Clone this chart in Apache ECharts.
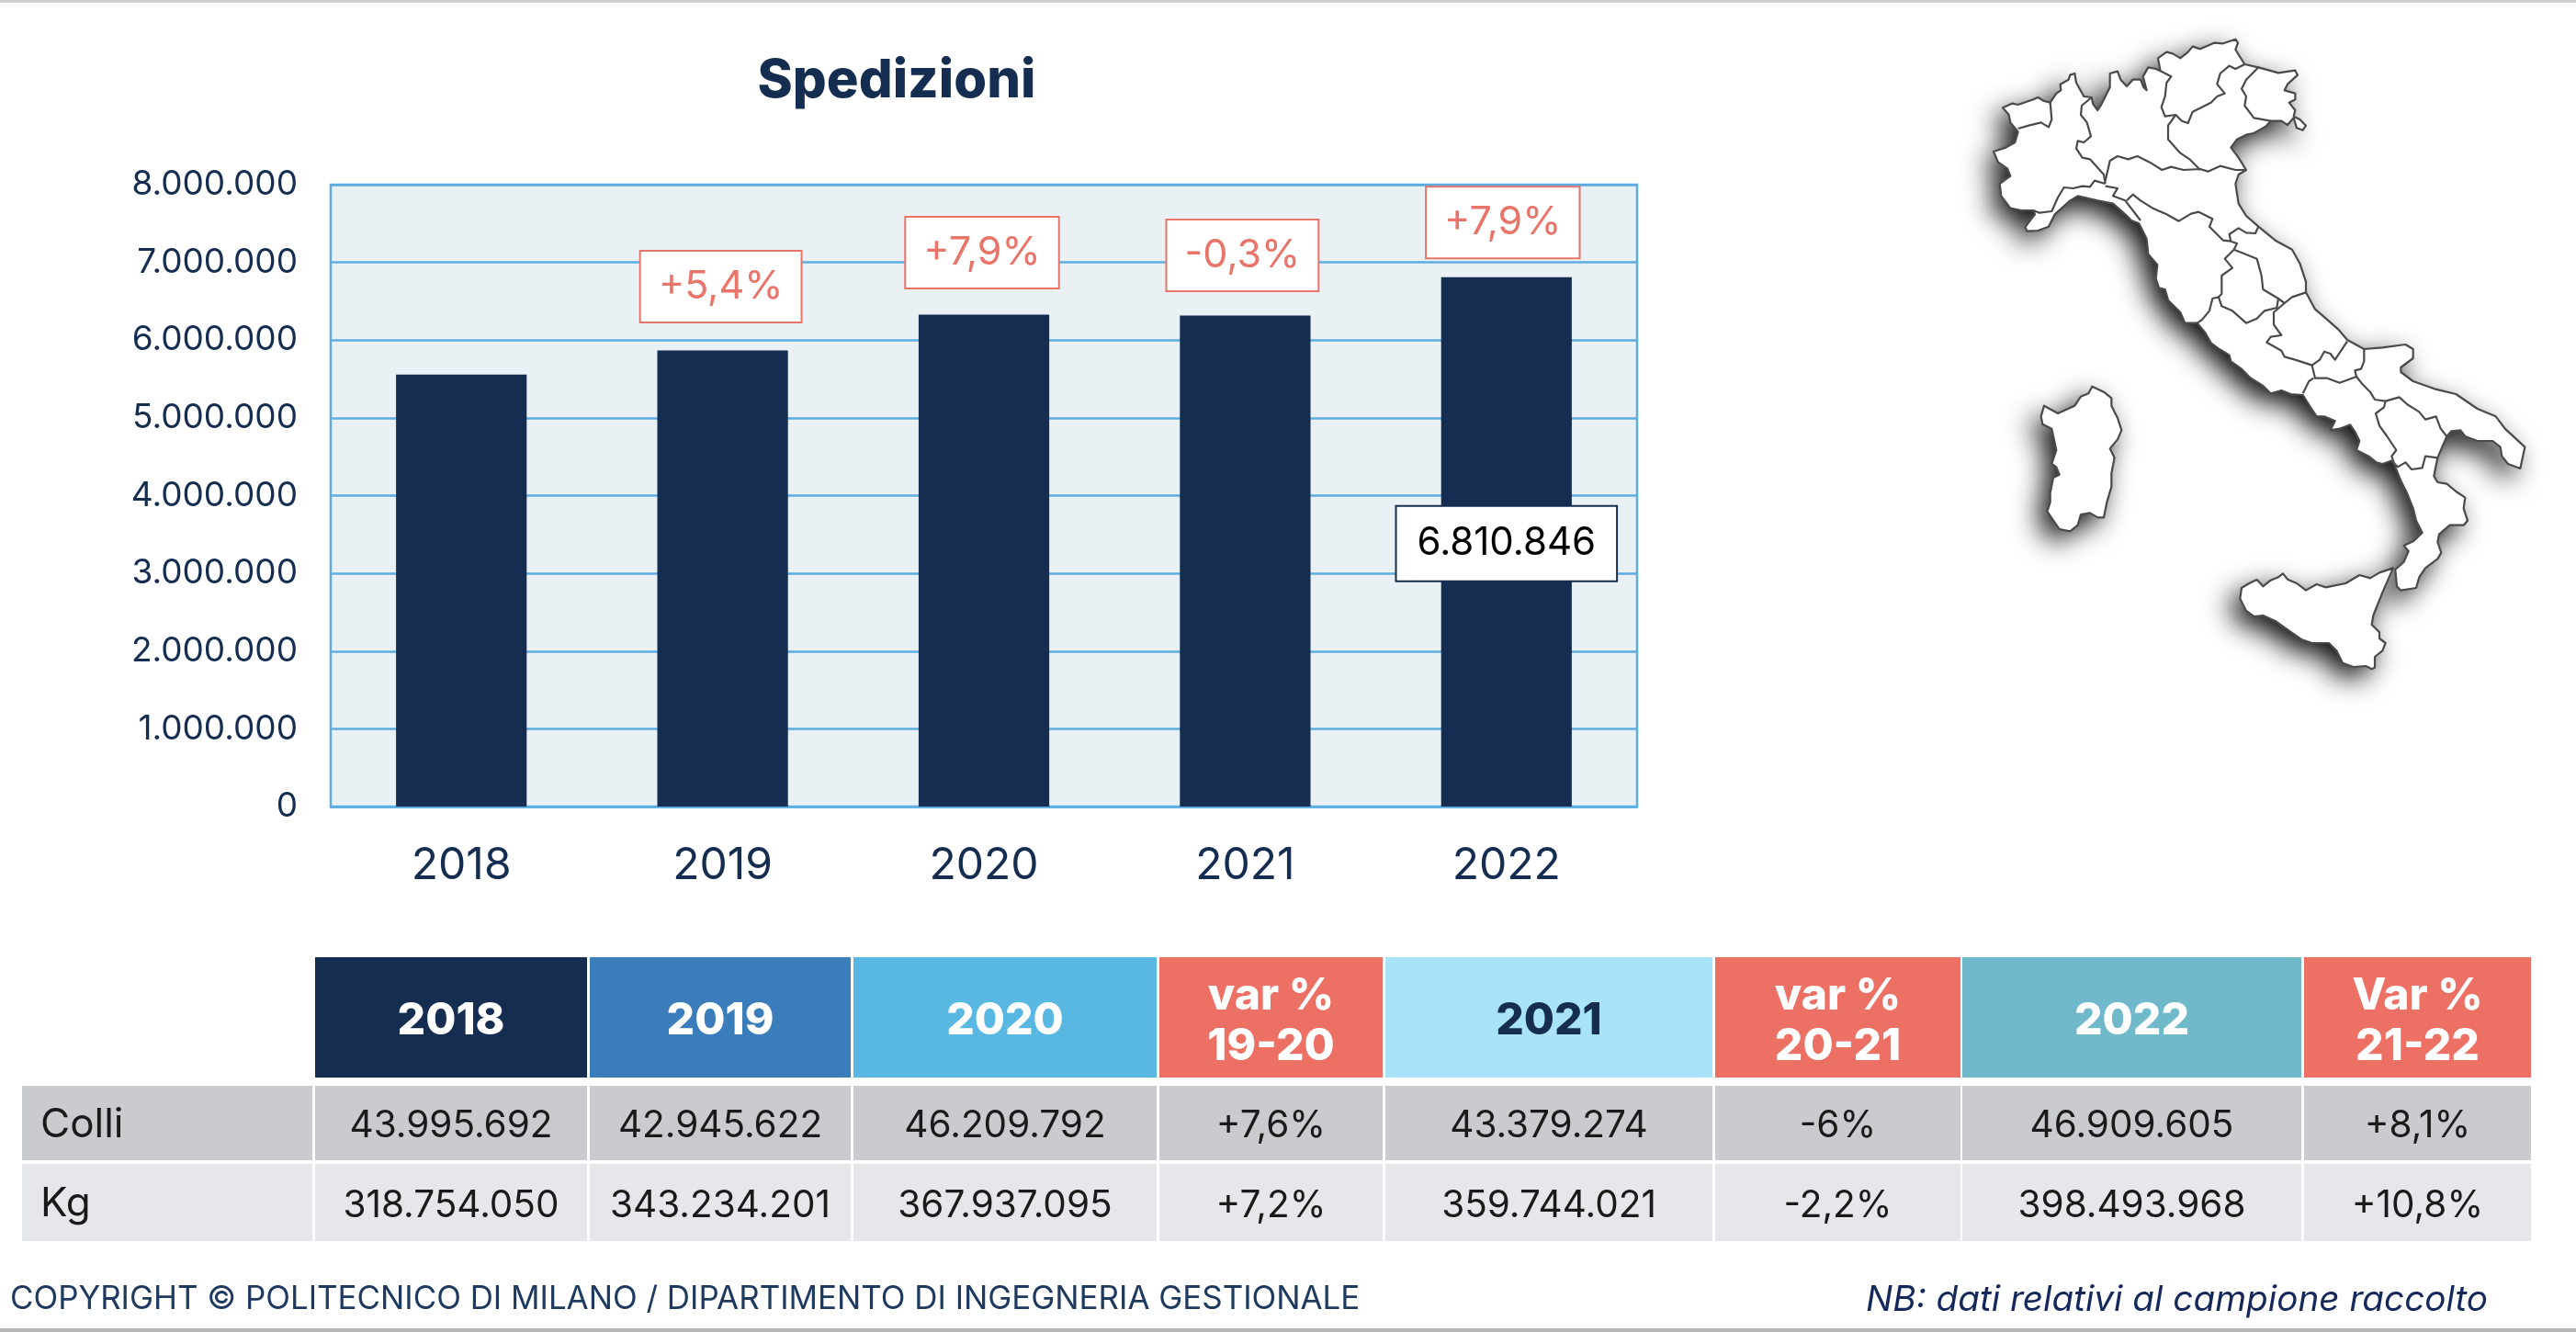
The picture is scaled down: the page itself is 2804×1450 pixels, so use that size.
<!DOCTYPE html>
<html><head><meta charset="utf-8">
<style>html,body{margin:0;padding:0;background:#fff}#c{width:2804px;height:1450px}</style>
<script src="https://cdn.jsdelivr.net/npm/echarts@6/dist/echarts.min.js"></script>
</head><body><div id="c"></div>
<script>
const years = ['2018','2019','2020','2021','2022'];
const shipments = [5558000, 5866000, 6327000, 6315000, 6810846];
const variations = [null,'+5,4%','+7,9%','-0,3%','+7,9%'];
const yTicks = {min:0,max:8000000,step:1000000};
const tableHeaders = ['2018','2019','2020','var %\n19-20','2021','var %\n20-21','2022','Var %\n21-22'];
const rowNames = ['Colli','Kg'];
const colliRow = ['43.995.692','42.945.622','46.209.792','+7,6%','43.379.274','-6%','46.909.605','+8,1%'];
const kgRow = ['318.754.050','343.234.201','367.937.095','+7,2%','359.744.021','-2,2%','398.493.968','+10,8%'];
const copyrightText = 'COPYRIGHT © POLITECNICO DI MILANO / DIPARTIMENTO DI INGEGNERIA GESTIONALE';
const noteText = 'NB: dati relativi al campione raccolto';

const NAVY='#142d50', CORAL='#ed7064', FONT='Inter';
const headFill=[NAVY,'#3b7cbb','#58b8e2',CORAL,'#a9e3fa',CORAL,'#6fb9cb',CORAL];
const headText=['#fff','#fff','#fff','#fff',NAVY,'#fff','#fff','#fff'];
const colX=[[343,639],[642,926],[929,1259],[1262,1505],[1508,1864],[1867,2134],[2136,2505],[2508,2755]];
const labelOffset=[[0,0],[-2,-31],[-2,-29],[-3,-27],[-4,-21]];

// Italy artwork, traced in local frames (decoration, not chart data)
const frames={A:[2150,30],B:[2350,230],C:[2450,430],D:[2200,400],E:[2420,590]};
const mainlandParts=[
['A',[[90,262],[120,248],[140,252],[190,235],[205,228],[225,240],[245,245],[265,215],[280,205],[278,185],[305,170],[310,155],[325,150],[330,180],[355,225],[380,228],[385,250],[400,270],[410,255],[440,195],[440,150],[465,143],[475,170],[495,192],[515,170],[540,170],[550,195],[560,205],[548,160],[565,130],[590,135],[605,142],[597,100],[625,80],[645,85],[670,100],[695,80],[710,62],[735,70],[780,50],[810,52],[850,38],[858,50],[850,72],[880,120],[925,130],[990,148],[1045,140],[1053,155],[1020,185],[1010,205],[1045,215],[1045,235],[1025,245],[1045,270],[1040,290],[1060,300],[1080,320],[1070,335],[1050,328],[1040,295],[1020,318],[1000,305],[965,305],[950,322],[910,345],[885,350],[855,365],[835,392],[860,425],[885,465],[860,480],[850,510],[860,575],[885,615],[925,650],[980,695],[1035,725],[1060,770],[1080,830]]],
['B',[[480,265],[510,320],[545,350],[585,385],[615,420],[670,450],[730,445],[805,435],[830,450],[830,480],[790,510],[790,525],[830,555],[900,580],[970,597],[1040,645],[1100,670],[1130,710],[1195,770],[1180,840],[1140,825],[1120,800],[1115,770],[1090,750],[1040,750],[1000,735],[985,715],[955,718],[940,735]]],
['C',[[610,205],[598,265],[610,285],[640,290],[670,315],[700,335],[695,370],[708,410],[695,425],[650,425],[615,455],[610,480],[622,515],[610,535],[570,565],[550,595],[540,630],[490,638],[477,625],[472,570],[500,545],[515,510],[500,492],[530,478],[560,450],[540,410],[530,370],[510,320],[490,280],[470,230],[460,215],[430,225],[410,220],[385,200],[345,180],[355,150],[340,120],[325,97],[290,110],[260,115],[275,85],[240,70],[215,70],[195,40],[170,0]]],
['B',[[430,597],[400,585],[365,595],[340,570],[300,545],[270,515],[235,490],[230,470],[190,445],[170,430],[150,395],[125,365],[85,365],[70,330],[30,290],[20,255],[0,250]]],
['A',[[590,820],[595,775],[565,740],[560,690],[535,640],[510,630],[490,610],[450,575],[400,565],[335,550],[310,565],[260,610],[240,650],[205,663],[170,665],[163,652],[195,610],[190,597],[150,597],[115,590],[85,550],[80,510],[115,485],[105,460],[75,440],[60,405],[100,392],[130,375],[140,340],[115,310],[110,285]]]
];
const sardinia=['D',[[75,125],[120,150],[175,125],[195,95],[220,85],[232,62],[270,80],[295,100],[295,125],[315,165],[328,205],[315,235],[290,265],[305,295],[295,345],[295,390],[280,440],[270,490],[250,490],[225,475],[195,480],[185,515],[160,535],[125,528],[85,470],[95,440],[95,410],[105,360],[125,350],[115,325],[100,315],[115,270],[100,200],[70,185],[65,160]]];
const sicily=['E',[[60,150],[85,135],[110,123],[130,145],[155,125],[180,115],[195,103],[210,122],[240,135],[270,158],[305,138],[335,148],[400,135],[445,108],[480,118],[510,100],[555,85],[520,165],[490,240],[485,270],[510,295],[510,315],[530,330],[520,355],[495,375],[495,410],[485,415],[465,405],[425,408],[390,395],[370,355],[345,330],[290,330],[255,318],[215,290],[170,258],[130,240],[100,243],[75,225],[55,185]]];
const regionBorders=[
['A',[[140,330],[175,320],[215,310],[240,325],[250,300],[245,245]]],
['A',[[380,228],[348,255],[345,285],[365,310],[378,355],[355,375],[335,370],[330,395],[350,425],[375,430],[420,480],[425,510]]],
['A',[[425,510],[390,500],[375,520],[350,518],[320,525],[290,522],[270,555],[250,600],[210,605],[190,597]]],
['A',[[605,142],[640,160],[625,180],[620,225],[608,260],[620,290],[655,285],[675,305],[695,312],[710,275],[770,245],[790,225],[815,215],[790,185],[800,150],[830,125],[850,135],[880,120]]],
['A',[[925,130],[885,170],[870,200],[885,225],[880,255],[910,295],[965,305]]],
['A',[[655,285],[630,320],[630,365],[670,410],[700,430],[735,465]]],
['A',[[425,500],[440,435],[465,420],[500,430],[530,420],[570,440],[610,465],[640,455],[680,465],[735,462],[760,470],[800,452],[850,465],[885,465]]],
['A',[[425,518],[465,525],[450,550],[490,565],[540,630]]],
['A',[[495,565],[515,545],[540,565],[580,590],[625,610],[665,632],[705,608],[730,602],[775,625],[765,650],[810,695],[835,698],[830,675],[860,655],[885,670],[915,672],[925,650]]],
['A',[[835,698],[855,705],[845,725]]],
['B',[[245,125],[215,155],[240,185],[205,210],[205,270],[195,280],[205,310],[240,325],[285,365],[320,350],[345,325],[385,315],[390,285]]],
['B',[[245,125],[270,135],[320,155],[335,210],[340,255],[390,285],[410,300],[435,280],[480,265]]],
['B',[[195,280],[175,285],[165,325],[140,355],[125,365]]],
['B',[[410,300],[375,330],[375,370],[400,405],[365,410],[352,428],[400,455],[410,475],[445,485],[500,503],[525,485],[540,458],[560,465],[575,485],[615,425]]],
['B',[[670,450],[670,490],[660,515],[640,520],[645,540],[590,560],[550,545],[510,545],[500,503]]],
['B',[[505,545],[490,555],[470,595]]],
['B',[[645,540],[665,565],[690,590],[705,615],[740,620],[785,607],[810,630],[850,655],[870,680],[905,670],[920,710],[940,735]]],
['B',[[740,620],[735,640],[708,660],[720,700],[745,735],[775,780],[760,800],[770,830]]],
['C',[[460,215],[480,235],[505,220],[525,243],[560,238],[570,200],[610,205]]]
];
const toPage=part=>{const f=frames[part[0]];return part[1].map(p=>[f[0]+p[0]/3,f[1]+p[1]/3]);};

const gfx=[];
gfx.push({type:'rect',shape:{x:0,y:0,width:2804,height:3},style:{fill:'#cfcfcf'}});
gfx.push({type:'rect',shape:{x:0,y:1446,width:2804,height:4},style:{fill:'#b5b5b5'}});
function txt(t,x,y,size,fill,o){o=o||{};gfx.push({type:'text',z:5,style:{text:t,x:x,y:y,fontFamily:FONT,fontSize:size,fontWeight:o.w||400,fontStyle:o.i?'italic':'normal',fill:fill,align:o.a||'center',verticalAlign:'middle',lineHeight:o.lh||undefined}});}
tableHeaders.forEach((h,i)=>{
  const [a,b]=colX[i];
  gfx.push({type:'rect',shape:{x:a,y:1042,width:b-a,height:131},style:{fill:headFill[i]}});
  txt(h,(a+b)/2,1112,48,headText[i],{w:800,lh:55});
});
[[colliRow,1182,81,'#cacbcf'],[kgRow,1267,84,'#e6e7ea']].forEach((r,ri)=>{
  const [vals,y,ht,fill]=r;
  gfx.push({type:'rect',shape:{x:24,y:y,width:316,height:ht},style:{fill:fill}});
  txt(rowNames[ri],44,y+ht/2+2,44,'#1a1a1a',{a:'left'});
  vals.forEach((v,i)=>{
    const [a,b]=colX[i];
    gfx.push({type:'rect',shape:{x:a,y:y,width:b-a,height:ht},style:{fill:fill}});
    txt(v,(a+b)/2,y+ht/2+3.5,40.5,'#1a1a1a');
  });
});
txt(copyrightText,11,1415,34.9,'#1f3a60',{a:'left'});
txt(noteText,2031,1415,38.7,'#14285c',{a:'left',i:true});
const mainland=mainlandParts.reduce((acc,p)=>acc.concat(toPage(p)),[]);
const landmasses=[mainland,toPage(sardinia),toPage(sicily)];
landmasses.forEach(poly=>{
  gfx.push({type:'polygon',z:2,shape:{points:poly},style:{fill:'#fff',shadowBlur:30,shadowColor:'rgba(0,0,0,0.95)',shadowOffsetX:-10,shadowOffsetY:11}});
});
landmasses.forEach(poly=>{
  gfx.push({type:'polygon',z:3,shape:{points:poly},style:{fill:'#fff',stroke:'#4a4a4a',lineWidth:2.2,lineJoin:'round'}});
});
regionBorders.forEach(l=>gfx.push({type:'polyline',z:4,shape:{points:toPage(l)},style:{stroke:'#4a4a4a',lineWidth:2.2,lineJoin:'round',fill:null}}));

const dotted=v=>String(v).replace(/\B(?=(\d{3})+(?!\d))/g,'.');
const chart=echarts.init(document.getElementById('c'),null,{renderer:'canvas',width:2804,height:1450});
chart.setOption({
  animation:false,
  backgroundColor:'#fff',
  title:{text:'Spedizioni',left:971,top:84,textAlign:'center',textVerticalAlign:'middle',textStyle:{fontFamily:FONT,fontWeight:800,fontSize:58,color:NAVY}},
  grid:{left:360,top:201,width:1422,height:677,show:true,backgroundColor:'#e9f1f5',borderColor:'#5dade2',borderWidth:2.5},
  xAxis:{type:'category',data:years,axisTick:{show:false},axisLine:{lineStyle:{color:'#5dade2',width:2.5}},
    axisLabel:{fontFamily:FONT,fontSize:48,color:NAVY,margin:41}},
  yAxis:{type:'value',min:yTicks.min,max:yTicks.max,interval:yTicks.step,axisLine:{show:false},axisTick:{show:false},
    splitLine:{lineStyle:{color:'#5dade2',width:2.5}},
    axisLabel:{fontFamily:FONT,fontSize:37,color:NAVY,margin:36,padding:[8,0,0,0],formatter:dotted}},
  series:[
    {type:'bar',name:'Spedizioni',barWidth:'50%',itemStyle:{color:NAVY},
     data:shipments.map((v,i)=>i===shipments.length-1?{value:v,label:{show:true,position:'inside',offset:[0,2],formatter:dotted(v),fontFamily:FONT,fontSize:42,color:'#000',backgroundColor:'#fff',borderColor:NAVY,borderWidth:2,padding:[18,22],lineHeight:44}}:v)},
    {type:'line',name:'Variazione %',showSymbol:true,symbol:'circle',symbolSize:1,itemStyle:{color:'transparent'},lineStyle:{opacity:0},z:4,
     data:shipments.map((v,i)=>({value:v,label:{show:!!variations[i],position:'top',distance:0,offset:labelOffset[i],formatter:variations[i]||'',fontFamily:FONT,fontSize:43,color:'#e8746a',backgroundColor:'#fff',borderColor:'#e8746a',borderWidth:2,padding:[16,19],lineHeight:44}}))}
  ],
  graphic:{elements:gfx}
});
</script></body></html>
